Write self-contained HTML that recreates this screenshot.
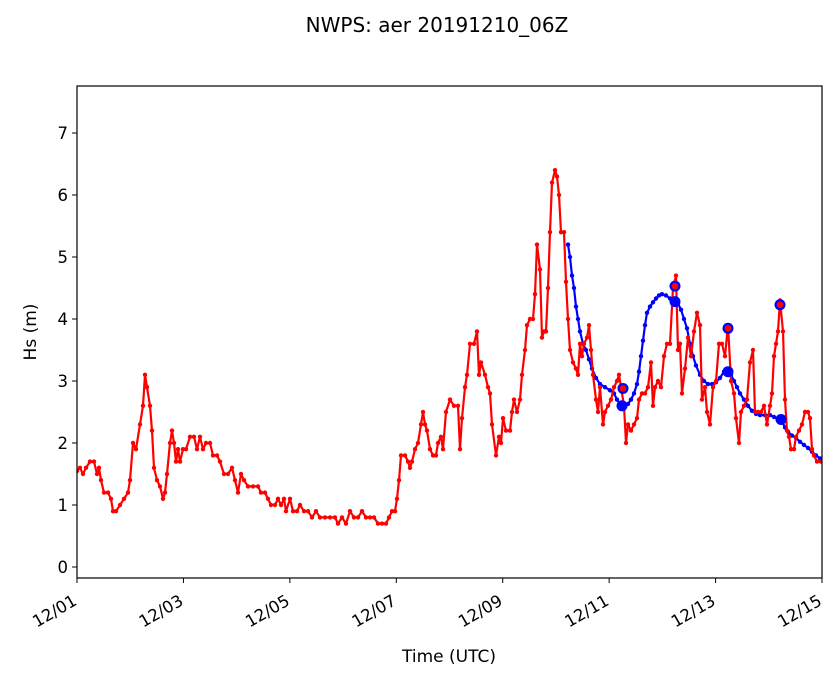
<!DOCTYPE html>
<html><head><meta charset="utf-8"><style>
body{margin:0;background:#fff}
svg text{font-family:"DejaVu Sans","Liberation Sans",sans-serif;fill:#000}
</style></head><body>
<svg id="s" width="839" height="681" xmlns="http://www.w3.org/2000/svg">
<rect width="839" height="681" fill="#fff"/>
<text x="437" y="32" font-size="20" text-anchor="middle">NWPS: aer 20191210_06Z</text>
<g id="plot"></g>
<rect x="77" y="86" width="745" height="492" fill="none" stroke="#000" stroke-width="1.2"/>
<g id="ax" font-size="16.5"></g>
<text x="449" y="662" font-size="17" text-anchor="middle">Time (UTC)</text>
<text transform="translate(36,332) rotate(-90)" font-size="17" text-anchor="middle">Hs (m)</text>
</svg>
<script>
const Y=v=>567-62*v;
const red=[[77,1.55],[80,1.6],[83,1.5],[86,1.6],[90,1.7],[94,1.7],[97,1.5],[99,1.6],[101,1.4],[104,1.2],[108,1.2],[111,1.1],[113,0.9],[116,0.9],[120,1.0],[124,1.1],[128,1.2],[130,1.4],[133,2.0],[136,1.9],[140,2.3],[143,2.6],[145,3.1],[147,2.9],[150,2.6],[152,2.2],[154,1.6],[157,1.4],[160,1.3],[163,1.1],[165,1.2],[167,1.5],[170,2.0],[172,2.2],[174,2.0],[176,1.7],[178,1.9],[180,1.7],[183,1.9],[186,1.9],[190,2.1],[194,2.1],[197,1.9],[200,2.1],[203,1.9],[206,2.0],[210,2.0],[213,1.8],[217,1.8],[220,1.7],[224,1.5],[228,1.5],[232,1.6],[235,1.4],[238,1.2],[241,1.5],[244,1.4],[248,1.3],[253,1.3],[258,1.3],[261,1.2],[265,1.2],[268,1.1],[271,1.0],[275,1.0],[278,1.1],[281,1.0],[284,1.1],[286,0.9],[290,1.1],[293,0.9],[297,0.9],[300,1.0],[304,0.9],[308,0.9],[312,0.8],[316,0.9],[320,0.8],[325,0.8],[330,0.8],[335,0.8],[338,0.7],[342,0.8],[346,0.7],[350,0.9],[354,0.8],[358,0.8],[362,0.9],[366,0.8],[370,0.8],[374,0.8],[378,0.7],[382,0.7],[386,0.7],[389,0.8],[392,0.9],[395,0.9],[397,1.1],[399,1.4],[401,1.8],[405,1.8],[408,1.7],[410,1.6],[412,1.7],[415,1.9],[418,2.0],[421,2.3],[423,2.5],[425,2.3],[427,2.2],[430,1.9],[433,1.8],[436,1.8],[438,2.0],[441,2.1],[443,1.9],[446,2.5],[450,2.7],[454,2.6],[458,2.6],[460,1.9],[462,2.4],[465,2.9],[467,3.1],[470,3.6],[474,3.6],[477,3.8],[479,3.1],[481,3.3],[485,3.1],[488,2.9],[490,2.8],[492,2.3],[496,1.8],[499,2.1],[501,2.0],[503,2.4],[506,2.2],[510,2.2],[512,2.5],[514,2.7],[517,2.5],[520,2.7],[522,3.1],[525,3.5],[527,3.9],[530,4.0],[533,4.0],[535,4.4],[537,5.2],[540,4.8],[542,3.7],[544,3.8],[546,3.8],[548,4.5],[550,5.4],[552,6.2],[555,6.4],[557,6.3],[559,6.0],[561,5.4],[564,5.4],[566,4.6],[568,4.0],[570,3.5],[573,3.3],[576,3.2],[578,3.1],[580,3.6],[582,3.4],[584,3.6],[587,3.7],[589,3.9],[591,3.5],[593,3.1],[596,2.7],[598,2.5],[600,2.9],[603,2.3],[605,2.5],[608,2.6],[611,2.7],[614,2.9],[617,3.0],[619,3.1],[621,2.9],[624,2.6],[626,2.0],[628,2.3],[631,2.2],[634,2.3],[637,2.4],[639,2.7],[642,2.8],[645,2.8],[648,2.9],[651,3.3],[653,2.6],[655,2.9],[658,3.0],[661,2.9],[664,3.4],[667,3.6],[670,3.6],[673,4.5],[676,4.7],[678,3.5],[680,3.6],[682,2.8],[685,3.2],[688,3.7],[691,3.4],[694,3.8],[697,4.1],[700,3.9],[702,2.7],[705,2.9],[707,2.5],[710,2.3],[713,2.9],[716,3.0],[719,3.6],[722,3.6],[725,3.4],[728,3.9],[731,3.0],[734,2.8],[736,2.4],[739,2.0],[741,2.5],[744,2.6],[747,2.7],[750,3.3],[753,3.5],[755,2.5],[758,2.5],[761,2.5],[764,2.6],[767,2.3],[770,2.6],[772,2.8],[774,3.4],[776,3.6],[778,3.8],[780,4.3],[783,3.8],[785,2.7],[787,2.2],[789,2.1],[791,1.9],[794,1.9],[796,2.1],[799,2.2],[802,2.3],[805,2.5],[808,2.5],[810,2.4],[812,1.9],[814,1.8],[817,1.7],[821,1.7]];
const blue=[[568,5.2],[570,5.0],[572,4.7],[574,4.5],[576,4.2],[578,4.0],[580,3.8],[583,3.6],[586,3.5],[589,3.35],[592,3.2],[596,3.05],[600,2.95],[605,2.9],[610,2.85],[614,2.8],[617,2.7],[620,2.62],[624,2.6],[628,2.63],[631,2.7],[634,2.8],[637,2.95],[639,3.15],[641,3.4],[643,3.65],[645,3.9],[647,4.1],[650,4.2],[653,4.27],[656,4.33],[659,4.38],[662,4.4],[666,4.38],[670,4.33],[674,4.3],[678,4.25],[681,4.15],[684,4.0],[687,3.85],[690,3.6],[693,3.4],[696,3.25],[700,3.1],[704,3.0],[708,2.95],[712,2.95],[716,2.98],[720,3.05],[724,3.15],[728,3.15],[731,3.1],[734,3.0],[737,2.9],[740,2.8],[744,2.7],[748,2.6],[752,2.52],[756,2.47],[760,2.45],[765,2.45],[770,2.45],[774,2.42],[778,2.38],[782,2.35],[785,2.25],[788,2.18],[792,2.12],[796,2.08],[800,2.02],[804,1.97],[808,1.92],[812,1.86],[816,1.8],[820,1.75]];
let h='<clipPath id="c"><rect x="77" y="86" width="745" height="492"/></clipPath><g clip-path="url(#c)">';
function series(d,col){h+=`<polyline fill="none" stroke="${col}" stroke-width="2.2" stroke-linejoin="round" points="${d.map(p=>p[0]+','+Y(p[1]).toFixed(1)).join(' ')}"/>`;d.forEach(p=>h+=`<circle cx="${p[0]}" cy="${Y(p[1]).toFixed(1)}" r="2.2" fill="${col}"/>`);}
series(blue,'#0000ff');series(red,'#ff0000');
[[622,2.6],[675,4.28],[728,3.15],[781,2.38]].forEach(p=>h+=`<circle cx="${p[0]}" cy="${Y(p[1])}" r="5.5" fill="#0000ff"/>`);
[[623,2.88],[675,4.53],[728,3.85],[780,4.23]].forEach(p=>h+=`<circle cx="${p[0]}" cy="${Y(p[1])}" r="5.5" fill="#0000ff"/><circle cx="${p[0]}" cy="${Y(p[1])}" r="3.3" fill="#ff0000"/>`);
h+='</g>';
document.getElementById('plot').innerHTML=h;
let a='';
for(let v=0;v<=7;v++){const y=Y(v);a+=`<line x1="72" x2="77" y1="${y}" y2="${y}" stroke="#000"/><text x="68" y="${y+6}" text-anchor="end">${v}</text>`;}
['12/01','12/03','12/05','12/07','12/09','12/11','12/13','12/15'].forEach((t,i)=>{const x=77+i*106.43;a+=`<line x1="${x}" x2="${x}" y1="578" y2="583" stroke="#000"/><text transform="translate(${x+1},${604}) rotate(-30)" text-anchor="end">${t}</text>`;});
document.getElementById('ax').innerHTML=a;
</script>
</body></html>
